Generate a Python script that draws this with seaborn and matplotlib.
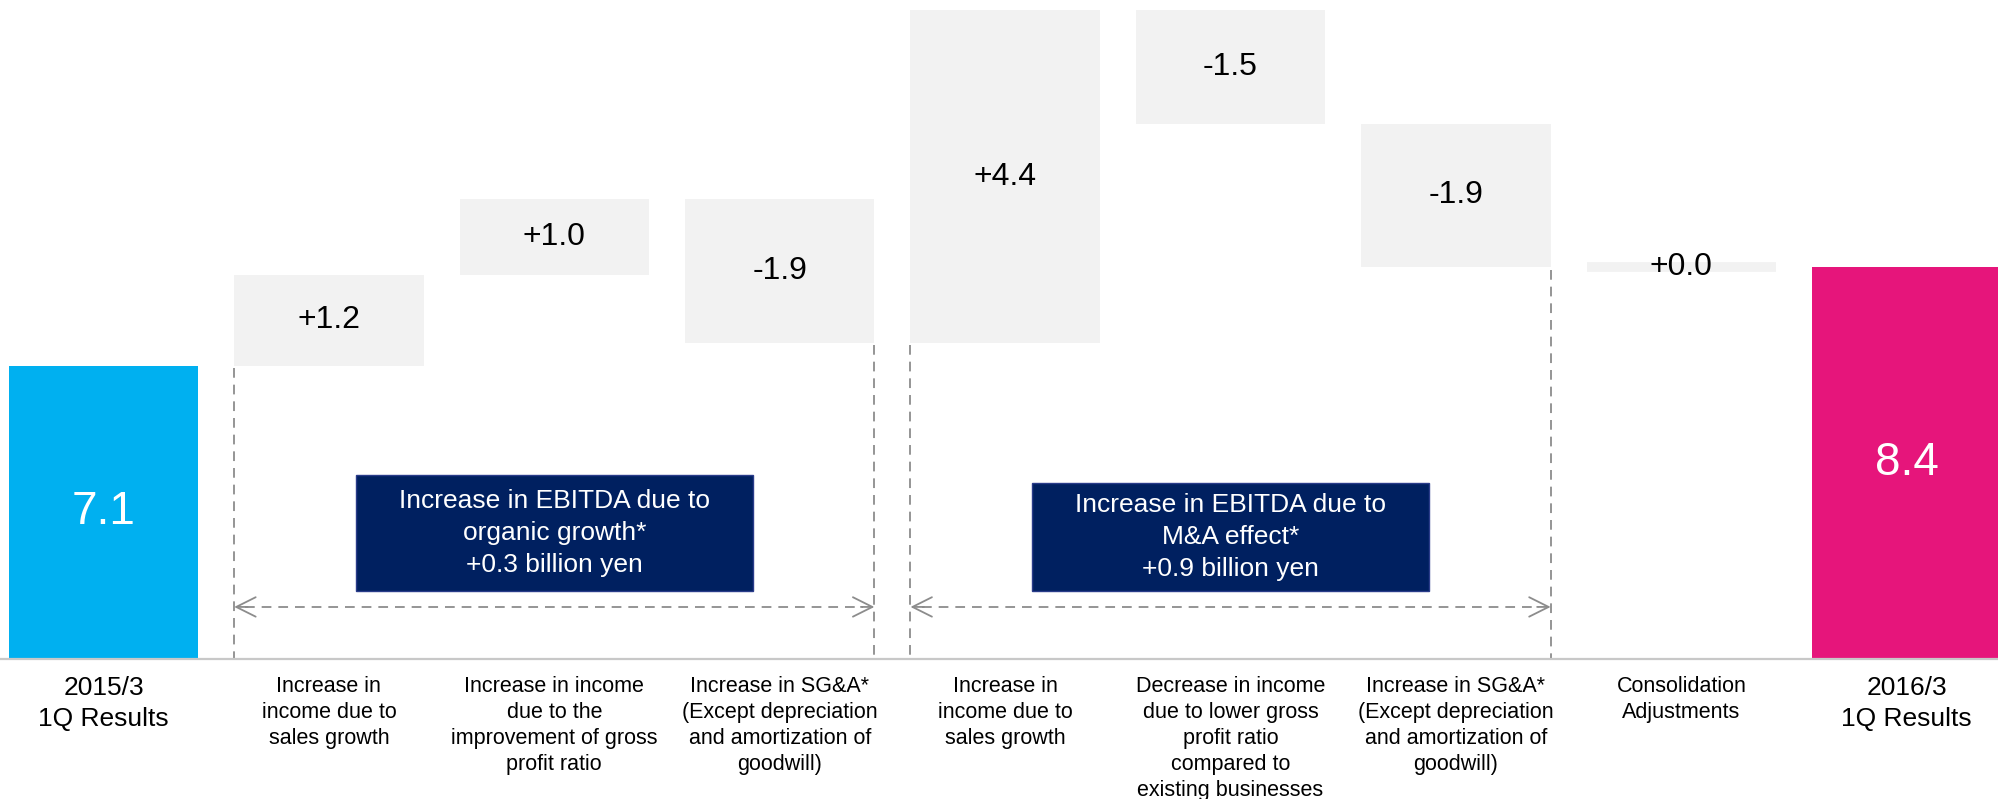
import matplotlib
matplotlib.use("Agg")
import matplotlib.pyplot as plt
import matplotlib.transforms as mtransforms
from matplotlib.patches import Rectangle
import numpy as np
import pandas as pd
import seaborn as sns

# ---- data (EBITDA bridge, billion yen) ----
step_keys = ["start", "org_sales", "org_margin", "org_sga",
             "ma_sales", "ma_margin", "ma_sga", "consol", "end"]
category_labels = [
    "2015/3\n1Q Results",
    "Increase in\nincome due to\nsales growth",
    "Increase in income\ndue to the\nimprovement of gross\nprofit ratio",
    "Increase in SG&A*\n(Except depreciation\nand amortization of\ngoodwill)",
    "Increase in\nincome due to\nsales growth",
    "Decrease in income\ndue to lower gross\nprofit ratio\ncompared to\nexisting businesses",
    "Increase in SG&A*\n(Except depreciation\nand amortization of\ngoodwill)",
    "Consolidation\nAdjustments",
    "2016/3\n1Q Results",
]
start_value = 7.1
deltas = [1.2, 1.0, -1.9, 4.4, -1.5, -1.9, 0.0]
end_value = 8.4

group_titles = ["Increase in EBITDA due to\norganic growth*",
                "Increase in EBITDA due to\nM&A effect*"]
group_totals = [0.3, 0.9]
group_steps = [(1, 3), (4, 6)]   # first and last step index of each group

# ---- styling ----
BLUE = "#00B0F0"
PINK = "#E6157B"
GREY = "#F2F2F2"
NAVY = "#002060"
DASH = "#8C8C8C"
AXIS = "#C8C8C8"

sns.set_style("white")
plt.rcParams["font.family"] = ["Liberation Sans", "DejaVu Sans"]
plt.rcParams["lines.scale_dashes"] = False

# ---- waterfall geometry from the data ----
levels = [start_value]
for d in deltas:
    levels.append(levels[-1] + d)
heights = [start_value] + deltas + [end_value]
bottoms = [0.0] + levels[:-1] + [0.0]

df = pd.DataFrame({"step": step_keys, "height": heights})

fig = plt.figure(figsize=(19.99, 7.99), dpi=100)
ax = fig.add_axes([0, 140 / 799, 1, 659 / 799])

bar_width = 0.84
sns.barplot(data=df, x="step", y="height", order=step_keys, color=GREY,
            saturation=1, width=bar_width, errorbar=None,
            bottom=np.array(bottoms), linewidth=0, ax=ax)

patches = ax.patches
patches[0].set_facecolor(BLUE)
patches[-1].set_facecolor(PINK)
for p, h in zip(patches, heights):
    if h == 0:
        # a flat step is still shown as a thin grey band
        p.set_edgecolor(GREY)
        p.set_linewidth(7)
        p.set_joinstyle("bevel")

ax.set_xlim(-0.459, 8.409)
ax.set_ylim(3.226, 11.932)

# value labels
for i, (h, b) in enumerate(zip(heights, bottoms)):
    if i in (0, len(heights) - 1):
        ymid = (ax.get_ylim()[0] + h) / 2
        ax.text(i, ymid, f"{h:.1f}", ha="center", va="center",
                color="white", fontsize=33)
    else:
        ax.text(i, b + h / 2, f"{h:+.1f}", ha="center", va="center",
                color="black", fontsize=23)

# dashed guides marking each group of steps
half = bar_width / 2
ybase = ax.get_ylim()[0]
arrow_y = ybase + (ax.get_ylim()[1] - ybase) * 0.0790
trans = mtransforms.blended_transform_factory(ax.transData, ax.transAxes)
box_tops = [0.279, 0.267]
for (s0, s1), title, total, btop in zip(group_steps, group_titles,
                                        group_totals, box_tops):
    x_left = s0 - half
    x_right = s1 + half
    top_left = min(bottoms[s0], bottoms[s0] + heights[s0])
    top_right = min(bottoms[s1], bottoms[s1] + heights[s1])
    ax.plot([x_left, x_left], [top_left - 0.03, ybase], color=DASH,
            lw=1.3, ls=(0, (7, 5)), zorder=1)
    ax.plot([x_right, x_right], [top_right - 0.03, ybase], color=DASH,
            lw=1.3, ls=(0, (7, 5)), zorder=1)
    ax.plot([x_left + 0.05, x_right - 0.05], [arrow_y, arrow_y], color=DASH,
            lw=1.3, ls=(0, (7, 5)), zorder=2)
    for tip, tail in ((x_left, x_left + 0.06), (x_right, x_right - 0.06)):
        ax.annotate("", xy=(tip, arrow_y), xytext=(tail, arrow_y),
                    arrowprops=dict(arrowstyle="->,head_length=1.4,head_width=0.7",
                                    color=DASH, lw=1.3, shrinkA=0, shrinkB=0),
                    zorder=3)
    # navy summary box centred over the group
    cx = (s0 + s1) / 2
    bw = 1.762
    ax.add_patch(Rectangle((cx - bw / 2, 0.103), bw, btop - 0.103,
                           transform=trans, facecolor=NAVY,
                           edgecolor="#2A3C8A", lw=1, zorder=4))
    ax.text(cx, (0.103 + btop) / 2, f"{title}\n{total:+.1f} billion yen",
            transform=trans, ha="center", va="center", color="white",
            fontsize=19, linespacing=1.42, zorder=5)

# category axis
ax.set_xticks(range(len(step_keys)))
ax.set_xticklabels(category_labels)
ax.tick_params(axis="x", length=0, pad=12)
for i, lab in enumerate(ax.get_xticklabels()):
    lab.set_fontsize(19 if i in (0, len(step_keys) - 1) else 15.5)
    lab.set_linespacing(1.4 if i in (0, len(step_keys) - 1) else 1.31)
    lab.set_color("black")
ax.set_xlabel("")
ax.set_ylabel("")
ax.set_yticks([])
for side in ("left", "right", "top"):
    ax.spines[side].set_visible(False)
ax.spines["bottom"].set_color(AXIS)
ax.spines["bottom"].set_linewidth(1.6)

fig.savefig("out.png", dpi=100, facecolor="white")
